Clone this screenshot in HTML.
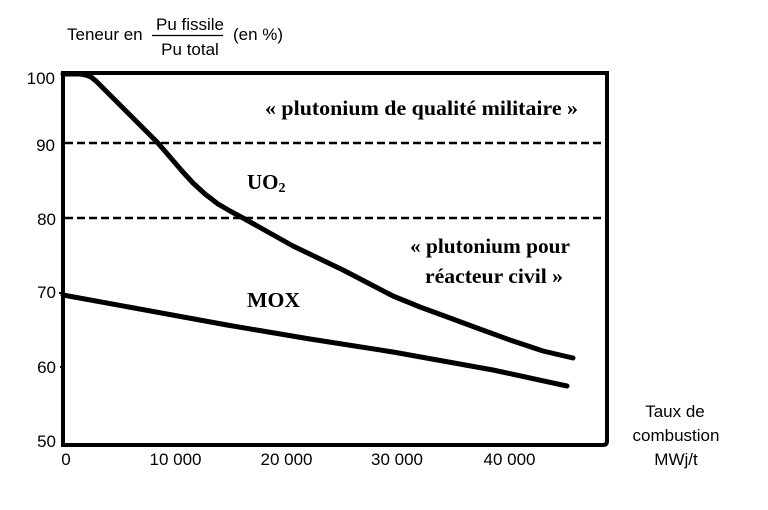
<!DOCTYPE html>
<html>
<head>
<meta charset="utf-8">
<style>
  html, body { margin:0; padding:0; background:#fff; }
  body { width:768px; height:510px; overflow:hidden; }
  svg { display:block; }
  .sans { font-family: "Liberation Sans", Arial, sans-serif; font-size:17px; fill:#000; }
  .serif { font-family: "Liberation Serif", "Times New Roman", serif; font-weight:bold; font-size:21px; fill:#000; }
</style>
</head>
<body>
<svg width="768" height="510" viewBox="0 0 768 510" xmlns="http://www.w3.org/2000/svg">
  <rect width="768" height="510" fill="#fff"/>

  <!-- Title -->
  <text class="sans" x="67" y="40">Teneur en</text>
  <text class="sans" x="190" y="30" text-anchor="middle">Pu fissile</text>
  <line x1="152" y1="35.5" x2="223" y2="35.5" stroke="#000" stroke-width="1.2"/>
  <text class="sans" x="190" y="55" text-anchor="middle">Pu total</text>
  <text class="sans" x="233" y="40">(en %)</text>

  <!-- Y labels -->
  <text class="sans" x="55" y="84" text-anchor="end">100</text>
  <text class="sans" x="55" y="151" text-anchor="end">90</text>
  <text class="sans" x="56" y="225" text-anchor="end">80</text>
  <text class="sans" x="56" y="298" text-anchor="end">70</text>
  <text class="sans" x="56" y="373" text-anchor="end">60</text>
  <text class="sans" x="56" y="447" text-anchor="end">50</text>

  <!-- X labels -->
  <text class="sans" x="66" y="465" text-anchor="middle">0</text>
  <text class="sans" x="175.5" y="465" text-anchor="middle">10 000</text>
  <text class="sans" x="286.5" y="465" text-anchor="middle">20 000</text>
  <text class="sans" x="397" y="465" text-anchor="middle">30 000</text>
  <text class="sans" x="509.5" y="465" text-anchor="middle">40 000</text>

  <!-- X axis title -->
  <text class="sans" x="675" y="417" text-anchor="middle">Taux de</text>
  <text class="sans" x="676" y="441" text-anchor="middle">combustion</text>
  <text class="sans" x="676" y="465" text-anchor="middle">MWj/t</text>

  <!-- Dashed lines -->
  <line x1="65" y1="143" x2="605" y2="143" stroke="#000" stroke-width="2.5" stroke-dasharray="8 4"/>
  <line x1="65" y1="218" x2="605" y2="218" stroke="#000" stroke-width="2.5" stroke-dasharray="8 4"/>

  <!-- Frame -->
  <path d="M63,73 L607,73 L607,441 Q607,445 603,445 L63,445 Z" fill="none" stroke="#000" stroke-width="4" stroke-linejoin="miter"/>
  <!-- small ticks -->
  <line x1="59" y1="293" x2="63" y2="293" stroke="#000" stroke-width="2"/>
  <line x1="60" y1="367" x2="63" y2="367" stroke="#000" stroke-width="2"/>

  <!-- UO2 curve -->
  <polyline fill="none" stroke="#000" stroke-width="5" stroke-linejoin="round" stroke-linecap="round"
    points="63,74 80,74 86,75 91,77 96,81 105,90 157,142 170,157 182,171 193,183 205,194 218,204 230,211 243,218 268,232 293,246 318,258 343,270 368,283 393,296 420,307 450,318 477,328 510,340 543,351 560,355 573,358"/>

  <!-- MOX curve -->
  <polyline fill="none" stroke="#000" stroke-width="5" stroke-linejoin="round" stroke-linecap="round"
    points="63,295 227,325 310,339 393,352 493,370 567,386"/>

  <!-- Annotations -->
  <text class="serif" x="265" y="115" textLength="313" lengthAdjust="spacingAndGlyphs">« plutonium de qualité militaire »</text>
  <text class="serif" x="247" y="189">UO<tspan font-size="14" dy="3">2</tspan></text>
  <text class="serif" x="410" y="253" textLength="160" lengthAdjust="spacingAndGlyphs">« plutonium pour</text>
  <text class="serif" x="425" y="283" textLength="138" lengthAdjust="spacingAndGlyphs">réacteur civil »</text>
  <text class="serif" x="247" y="307" textLength="53" lengthAdjust="spacingAndGlyphs">MOX</text>
</svg>
</body>
</html>
